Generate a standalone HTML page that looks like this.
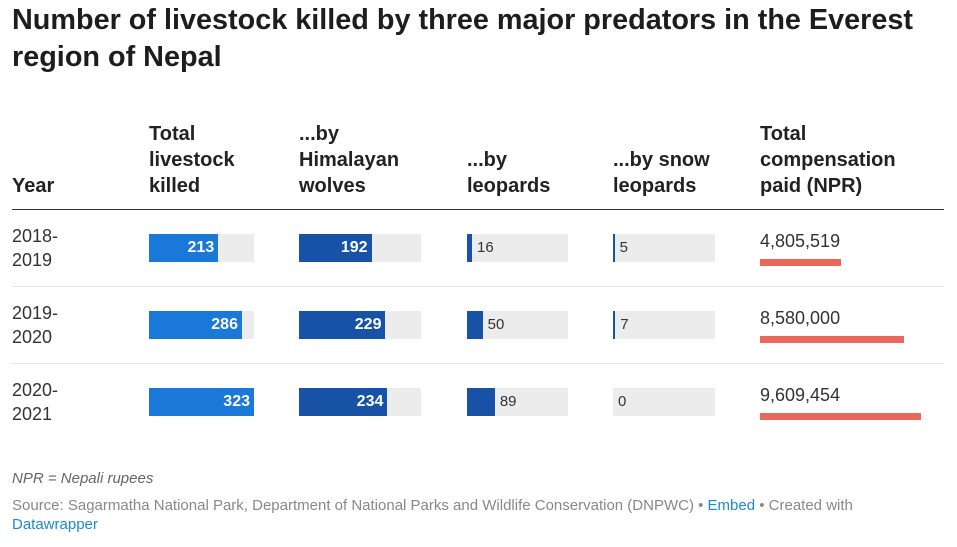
<!DOCTYPE html>
<html><head><meta charset="utf-8"><style>
body{margin:0;width:957px;height:547px;background:#fff;font-family:"Liberation Sans",Arial,sans-serif;color:#181818;position:relative;overflow:hidden}
.a{position:absolute}
h1{position:absolute;left:12px;top:2px;margin:0;font-size:28.8px;line-height:37px;font-weight:bold;width:935px;color:#1d1d1d}
.hd{position:absolute;font-size:20px;font-weight:bold;line-height:26px;color:#222}
.yr{position:absolute;left:12px;font-size:18px;line-height:24px;color:#333}
.bg{position:absolute;height:28px;background:#ececec}
.bar{position:absolute;height:28px}
.lab{position:absolute;font-size:16px;line-height:28px}
.sep{position:absolute;left:12px;width:932px;height:1px;background:#e6e6e6}
</style></head><body>
<h1>Number of livestock killed by three major predators in the Everest region of Nepal</h1>
<div class="hd" style="left:12px;top:173px">Year</div>
<div class="hd" style="left:149px;top:121px">Total<br>livestock<br>killed</div>
<div class="hd" style="left:299px;top:121px">...by<br>Himalayan<br>wolves</div>
<div class="hd" style="left:467px;top:147px">...by<br>leopards</div>
<div class="hd" style="left:613px;top:147px">...by snow<br>leopards</div>
<div class="hd" style="left:760px;top:121px">Total<br>compensation<br>paid (NPR)</div>
<div class="a" style="left:12px;top:209px;width:932px;height:1px;background:#333"></div>
<div id="rows"></div>
<div class="a" style="left:12px;top:470px;font-size:15px;font-style:italic;color:#666">NPR = Nepali rupees</div>
<div class="a" style="left:12px;top:496px;width:900px;font-size:15px;line-height:19px;color:#888">Source: Sagarmatha National Park, Department of National Parks and Wildlife Conservation (DNPWC) • <span style="color:#1a8ad4">Embed</span> • Created with <span style="color:#1a8ad4">Datawrapper</span></div>
<script>
const years=["2018-\n2019","2019-\n2020","2020-\n2021"];
const totals=[213,286,323];
const wolves=[192,229,234];
const leopards=[16,50,89];
const snow=[5,7,0];
const comp=[4805519,8580000,9609454];
const maxCount=323, maxComp=9609454;
const root=document.getElementById('rows');
function mk(cls,style,name){const d=document.createElement('div');d.className=cls;d.style.cssText=style;


root.appendChild(d);return d;}
const cols=[{x:149,w:105,v:totals,c:'#1a78d8',n:'total'},{x:299,w:122,v:wolves,c:'#1852a6',n:'wolves'},{x:467,w:101,v:leopards,c:'#1852a6',n:'leopards'},{x:613,w:102,v:snow,c:'#1852a6',n:'snow-leopards'}];
years.forEach((y,i)=>{
 const top=234+i*77;
 const yl=mk('yr','top:'+(top-10)+'px','year-label');yl.innerHTML=y.replace('\n','<br>');
 if(i>0) mk('sep','top:'+(top-25)+'px','row-separator');
 cols.forEach(c=>{
  mk('bg','left:'+c.x+'px;top:'+top+'px;width:'+c.w+'px','bar-bg-'+c.n);
  const bw=c.v[i]/maxCount*c.w;
  mk('bar','left:'+c.x+'px;top:'+top+'px;width:'+bw+'px;background:'+c.c,'bar-'+c.n);
  const l=mk('lab','top:'+top+'px','value-'+c.n);l.textContent=c.v[i];
  if(bw>40){l.style.left=(c.x+bw-54)+'px';l.style.width='50px';l.style.textAlign='right';l.style.color='#fff';l.style.fontWeight='bold';}
  else{l.style.left=(c.x+bw+5)+'px';l.style.color='#333';l.style.fontSize='15px';}
 });
 const cl=mk('lab','left:760px;top:'+(top-7)+'px;font-size:18px;color:#333','value-compensation');cl.textContent=comp[i].toLocaleString('en-US');
 mk('bar','left:760px;top:'+(top+25)+'px;height:7px;width:'+(comp[i]/maxComp*161)+'px;background:#e8695b','bar-compensation');
});
</script>
</body></html>
